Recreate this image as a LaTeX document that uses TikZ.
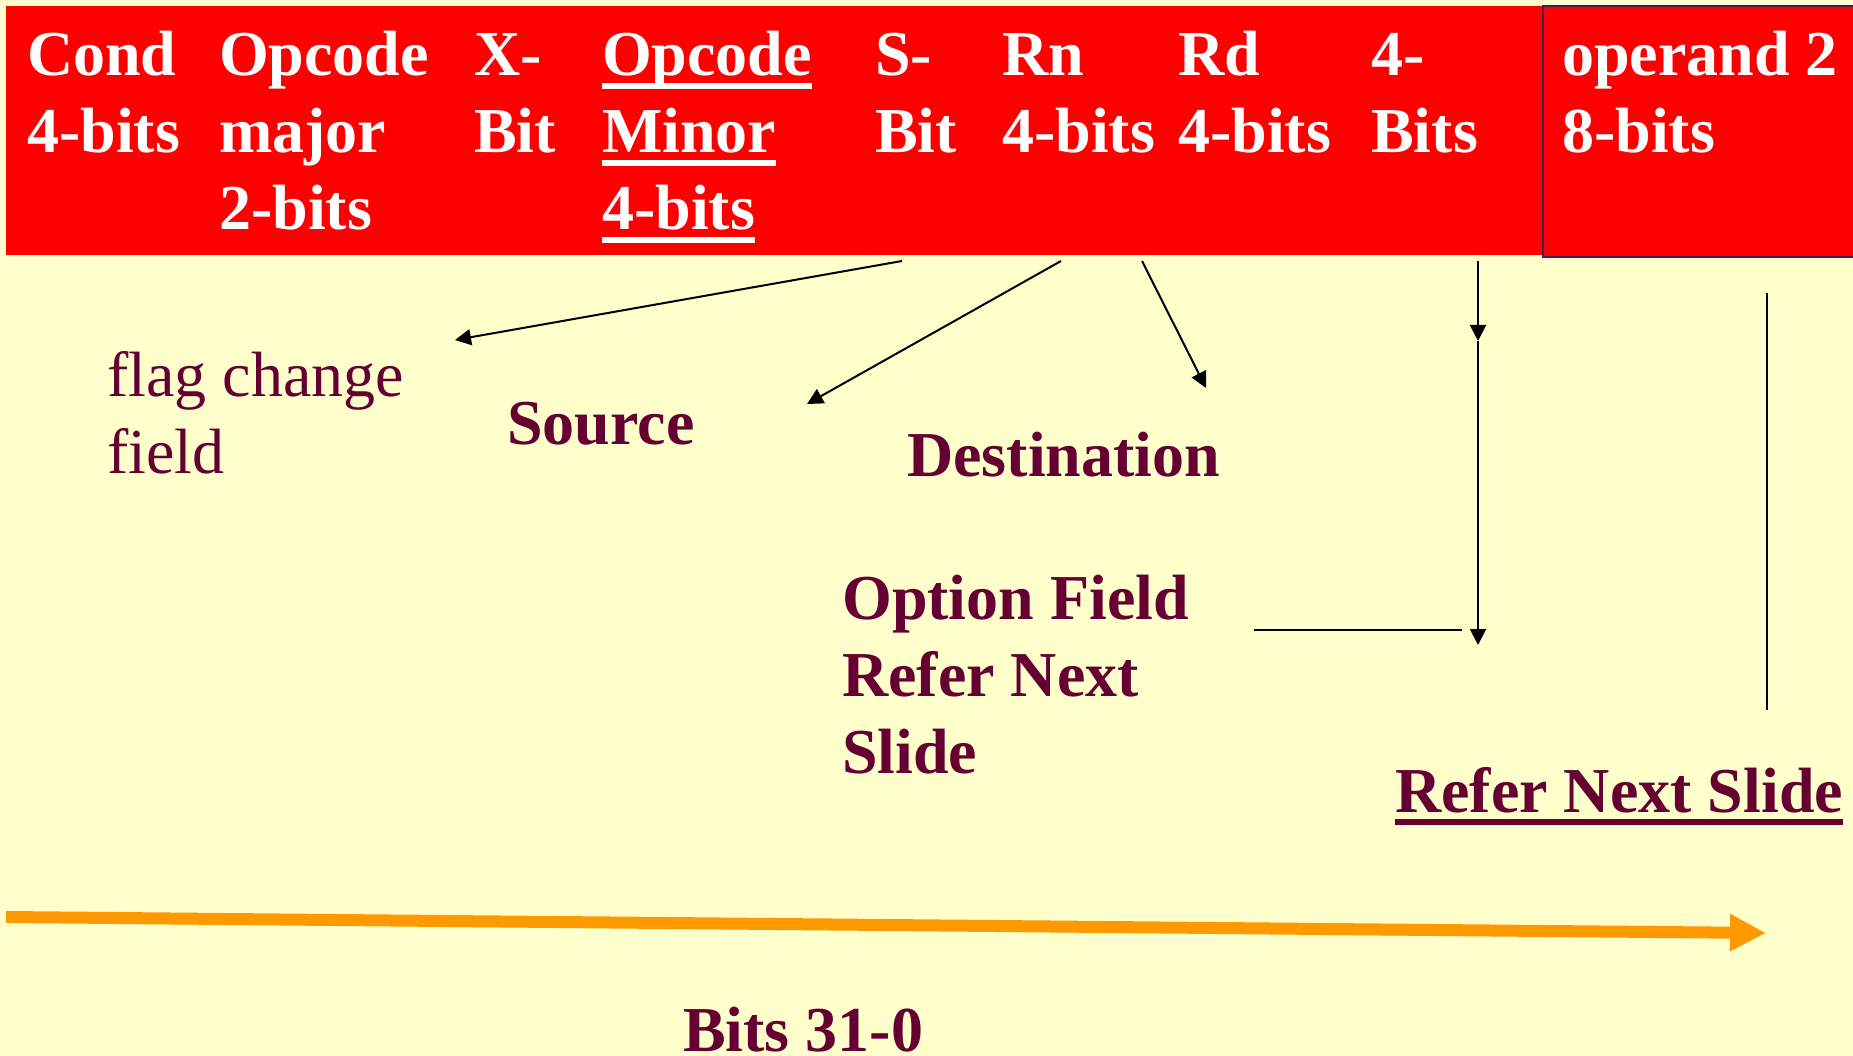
\documentclass[tikz,border=0pt]{standalone}
\usepackage{fontspec}
\setmainfont{Liberation Serif}
\usetikzlibrary{arrows.meta}
\definecolor{bgyel}{HTML}{FFFFCC}
\definecolor{hdrred}{HTML}{FF0000}
\definecolor{maroonT}{HTML}{660033}
\definecolor{opborder}{HTML}{4D1A4D}
\definecolor{orangeA}{HTML}{FF9900}
\newcommand\ulx[1]{\leavevmode\setbox0\hbox{#1}\rlap{\rule[-13pt]{\wd0}{6pt}}\box0}
\begin{document}
\begin{tikzpicture}[x=1pt,y=-1pt,
  hdrtxt/.style={anchor=base west, inner sep=0pt, align=left, text=white, font=\fontsize{64}{77}\selectfont\bfseries},
  lowtxt/.style={anchor=base west, inner sep=0pt, align=left, text=maroonT, font=\fontsize{64}{77}\selectfont\bfseries},
  regtxt/.style={anchor=base west, inner sep=0pt, align=left, text=maroonT, font=\fontsize{64}{77}\selectfont},
  ptr/.style={draw=black, line width=2pt, -{Triangle[length=16pt,width=16pt]}},
  plainln/.style={draw=black, line width=2pt},
]
\useasboundingbox (0,0) rectangle (1853,1056);
\fill[bgyel] (0,0) rectangle (1853,1056);
% header boxes
\node[fill=hdrred, inner sep=0pt, minimum width=1860pt, minimum height=249pt, anchor=north west] (hdr) at (6,6) {};
\node[fill=hdrred, draw=opborder, line width=2pt, inner sep=0pt, minimum width=330pt, minimum height=251pt, anchor=north west] (opbox) at (1542,5) {};
% header texts (anchor = baseline of last line)
\node[hdrtxt] (cond) at (27,153) {Cond\\4-bits};
\node[hdrtxt] (opmaj) at (219,230) {Opcode\\major\\2-bits};
\node[hdrtxt] (xbit) at (474,153) {X-\\Bit};
\node[hdrtxt] (opmin) at (602,230) {\ulx{Opcode}\\\ulx{Minor}\\\ulx{4-bits}};
\node[hdrtxt] (sbit) at (875,153) {S-\\Bit};
\node[hdrtxt] (rn) at (1002,153) {Rn\\4-bits};
\node[hdrtxt] (rd) at (1178,153) {Rd\\4-bits};
\node[hdrtxt] (fourb) at (1371,153) {4-\\Bits};
\node[hdrtxt] (op2) at (1562,153) {operand 2\\8-bits};
% lower texts
\node[regtxt] (flag) at (107,473) {flag change\\field};
\node[lowtxt] (src) at (507,445) {Source};
\node[lowtxt] (dst) at (907,476) {Destination};
\node[lowtxt] (opt) at (842,773) {Option Field\\Refer Next\\Slide};
\node[lowtxt] (refer) at (1395,812) {\ulx{Refer Next Slide}};
\node[lowtxt] (bits) at (683,1051) {Bits 31-0};
% connector coordinates
\coordinate (a1s) at (902,261);
\coordinate (a1e) at (455,340);
\coordinate (a2s) at (1061,261);
\coordinate (a2e) at (807,404);
\coordinate (a3s) at (1142,261);
\coordinate (a3e) at (1206,388);
\coordinate (v0) at (1478,261);
\coordinate (v1) at (1478,341);
\coordinate (v2) at (1478,645);
\coordinate (h0) at (1254,630);
\coordinate (h1) at (1462,630);
\coordinate (r0) at (1767,293);
\coordinate (r1) at (1767,710);
\coordinate (o0) at (6,917);
\coordinate (o1) at (1766,933);
% connectors
\draw[ptr] (a1s) -- (a1e);
\draw[ptr] (a2s) -- (a2e);
\draw[ptr] (a3s) -- (a3e);
\draw[ptr] (v0) -- (v1);
\draw[ptr] (v1) -- (v2);
\draw[plainln] (h0) -- (h1);
\draw[plainln] (r0) -- (r1);
\draw[draw=orangeA, line width=12pt, -{Triangle[length=36pt,width=35pt]}] (o0) -- (o1);
\end{tikzpicture}
\end{document}
